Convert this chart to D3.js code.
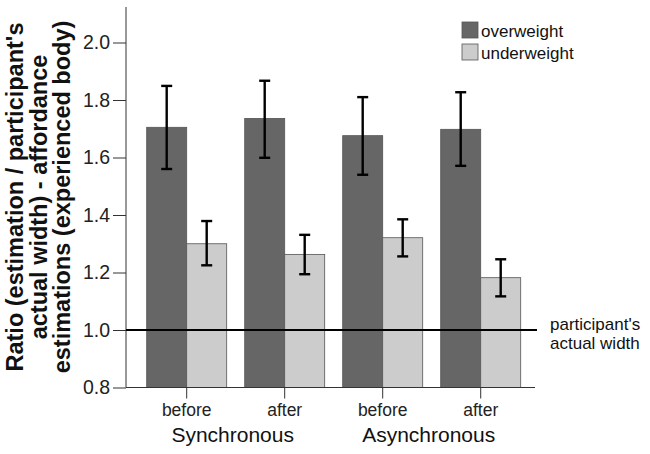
<!DOCTYPE html>
<html><head><meta charset="utf-8">
<script src="https://cdn.jsdelivr.net/npm/d3@7"></script>
<style>body{margin:0;background:#fff}svg{display:block;font-family:"Liberation Sans",Arial,sans-serif}</style>
</head><body><svg id="c" width="650" height="454"></svg>
<script>
const conditions = ["Synchronous before", "Synchronous after", "Asynchronous before", "Asynchronous after"];
const tickLabels = ["before", "after", "before", "after"];
const groups = ["Synchronous", "Asynchronous"];
const series = ["overweight", "underweight"];
const overweightMean = [1.705, 1.736, 1.676, 1.698];
const overweightLow  = [1.560, 1.599, 1.540, 1.571];
const overweightHigh = [1.849, 1.867, 1.810, 1.827];
const underweightMean = [1.300, 1.263, 1.321, 1.182];
const underweightLow  = [1.225, 1.194, 1.256, 1.117];
const underweightHigh = [1.379, 1.331, 1.385, 1.246];
const yTicks = [0.8, 1.0, 1.2, 1.4, 1.6, 1.8, 2.0];
const referenceValue = 1.0;
const referenceLabel = ["participant's", "actual width"];
const yTitle = ["Ratio (estimation / participant's", "actual width) - affordance", "estimations (experienced body)"];
const colors = {overweight: "#666666", underweight: "#cccccc"};

const svg = d3.select("#c");
const x = d3.scaleBand().domain(conditions).range([137.7, 529.7]).paddingInner(0.1837).paddingOuter(0.0918);
const xs = d3.scaleBand().domain(series).range([0, x.bandwidth()]);
const y = d3.scaleLinear().domain([0.8, 2.0]).range([387.5, 42.5]);

const data = [];
conditions.forEach((c, i) => {
  data.push({c, s: "overweight", m: overweightMean[i], lo: overweightLow[i], hi: overweightHigh[i]});
  data.push({c, s: "underweight", m: underweightMean[i], lo: underweightLow[i], hi: underweightHigh[i]});
});

// bars
svg.append("g").selectAll("rect").data(data).join("rect")
  .attr("x", d => x(d.c) + xs(d.s))
  .attr("y", d => y(d.m))
  .attr("width", xs.bandwidth())
  .attr("height", d => y(0.8) - y(d.m))
  .attr("fill", d => colors[d.s])
  .attr("stroke", "#555").attr("stroke-width", 0.8);

// error bars
const eb = svg.append("g").attr("stroke", "#000").attr("stroke-width", 2.4);
data.forEach(d => {
  const cx = x(d.c) + xs(d.s) + xs.bandwidth() / 2;
  eb.append("line").attr("x1", cx).attr("x2", cx).attr("y1", y(d.lo)).attr("y2", y(d.hi));
  eb.append("line").attr("x1", cx - 5.5).attr("x2", cx + 5.5).attr("y1", y(d.lo)).attr("y2", y(d.lo));
  eb.append("line").attr("x1", cx - 5.5).attr("x2", cx + 5.5).attr("y1", y(d.hi)).attr("y2", y(d.hi));
});

// y axis
const yAxis = svg.append("g").attr("transform", "translate(126,0)")
  .call(d3.axisLeft(y).tickValues(yTicks).tickFormat(d3.format(".1f")).tickSize(13).tickPadding(3));
yAxis.select(".domain").attr("d", "M0,7V387.5").attr("stroke", "#333");
yAxis.selectAll(".tick line").attr("stroke", "#333");
yAxis.selectAll("text").attr("font-size", 19.5).attr("fill", "#222").attr("font-family", "Liberation Sans, Arial, sans-serif");

// x axis
const xAxis = svg.append("g").attr("transform", `translate(0,${y(0.8)})`)
  .call(d3.axisBottom(x).tickValues(conditions).tickFormat((d, i) => tickLabels[i]).tickSize(11).tickPadding(5));
xAxis.selectAll(".tick").attr("transform", d => `translate(${x(d) + xs.bandwidth()},0)`);
xAxis.select(".domain").attr("d", "M126,0H535").attr("stroke", "#333");
xAxis.selectAll(".tick line").attr("stroke", "#333");
xAxis.selectAll("text").attr("font-size", 17.5).attr("fill", "#222").attr("font-family", "Liberation Sans, Arial, sans-serif");

// group labels
groups.forEach((g, gi) => {
  const a = x(conditions[gi * 2]) + xs.bandwidth();
  const b = x(conditions[gi * 2 + 1]) + xs.bandwidth();
  svg.append("text").attr("x", (a + b) / 2 - 3).attr("y", 442).attr("text-anchor", "middle")
    .attr("font-size", 21).attr("fill", "#111").text(g);
});

// reference line
svg.append("line").attr("x1", 126).attr("x2", 537).attr("y1", y(referenceValue)).attr("y2", y(referenceValue))
  .attr("stroke", "#000").attr("stroke-width", 2.2);
referenceLabel.forEach((t, i) => {
  svg.append("text").attr("x", 550).attr("y", y(referenceValue) + i * 18.5)
    .attr("font-size", 17).attr("fill", "#111").text(t);
});

// y title
const yt = svg.append("text").attr("transform", "translate(0,197) rotate(-90)")
  .attr("text-anchor", "middle").attr("font-size", 23.5).attr("font-weight", "bold").attr("fill", "#111");
yt.selectAll("tspan").data(yTitle).join("tspan").attr("x", 0)
  .attr("y", (d, i) => 23 + i * 23.5).text(d => d);

// legend
const lg = svg.append("g");
series.forEach((s, i) => {
  lg.append("rect").attr("x", 462).attr("y", 22 + i * 22).attr("width", 16).attr("height", 16)
    .attr("fill", colors[s]).attr("stroke", "#555").attr("stroke-width", 0.8);
  lg.append("text").attr("x", 481).attr("y", 37 + i * 22).attr("font-size", 17).attr("fill", "#111").text(s);
});
</script></body></html>
